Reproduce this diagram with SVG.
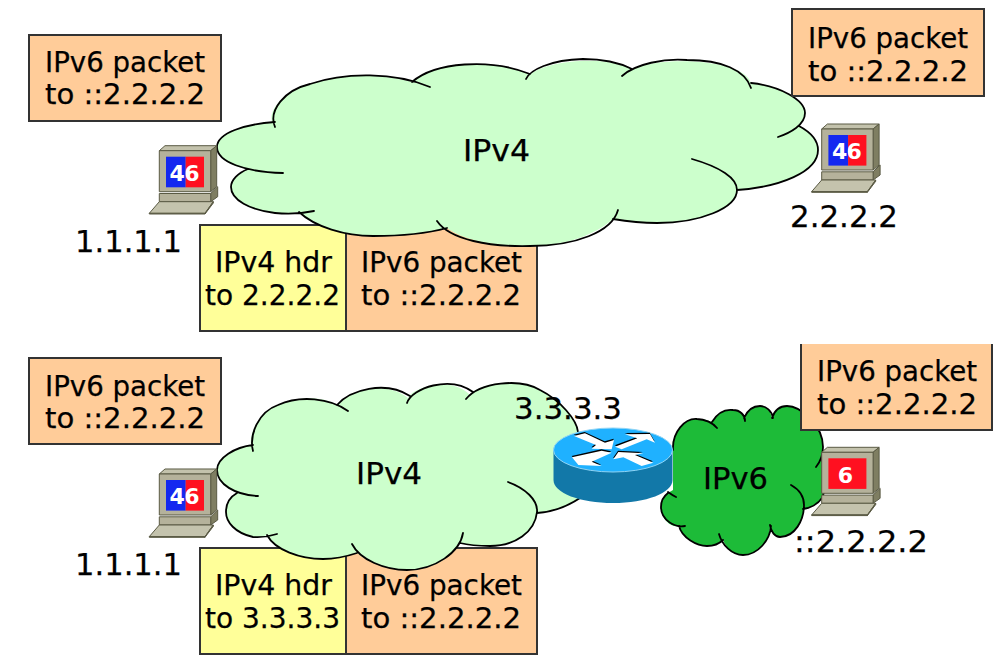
<svg xmlns="http://www.w3.org/2000/svg" xmlns:xlink="http://www.w3.org/1999/xlink" width="996" height="664" viewBox="0 0 996 664">
<style>
text{font-family:"DejaVu Sans","Liberation Sans",sans-serif;font-size:27.5px;fill:#000;stroke:#000;stroke-width:.25}
.lb{font-size:30px}
.box{stroke:#333;stroke-width:2}
.o{fill:#FFCC99}
.y{fill:#FFFF99}
.fl{stroke:none}
.ln{fill:none;stroke:#000;stroke-width:1.8;stroke-linecap:round}
text.pct{font-size:22px;font-weight:bold;fill:#fff;stroke:none;text-anchor:middle}
</style>
<defs>
<g id="pc" stroke="#5a5a44" stroke-width="1" stroke-linejoin="round">
<path d="M159.3,150.7L165,145.7H216.7L210.7,150.7Z" fill="#C3C2AC"/>
<path d="M210.7,150.7L216.7,145.7V186.7L210.7,191.7Z" fill="#7F7E62"/>
<rect x="159.3" y="150.7" width="51.4" height="41" fill="#B5B29B"/>
<path d="M210.7,193.5L217.7,186.7V196.7L210.7,201.7Z" fill="#7F7E62"/>
<rect x="159.3" y="193.5" width="51.4" height="8.2" fill="#B5B29B"/>
<path d="M149.3,213.3L159.3,201.7H213.3L205,213.3Z" fill="#C4C3AD"/>
<path d="M149.3,213.3H205V214H149.3Z" fill="#8a8a70"/>
<path d="M205,213.3L213.3,201.7L213.3,203L205,214Z" fill="#7F7E62"/>
</g>
<path id="arrows" d="M72,48L105,40L165,68L192,60L185,88L125,86L138,75ZM195,80L262,55L225,43L300,42L315,68L290,58L215,88ZM185,98L155,92L66,112L85,135L155,138L125,125ZM190,118L205,96L280,100L255,105L310,128L275,138L220,112Z"/>
</defs>

<g id="top-ipv4hdr"><rect class="box y" x="200" y="225" width="146" height="106"/>
<text x="215" y="272" textLength="117" lengthAdjust="spacingAndGlyphs">IPv4 hdr</text><text x="205" y="305" textLength="135" lengthAdjust="spacingAndGlyphs">to 2.2.2.2</text></g>
<g id="top-ipv6pkt"><rect class="box o" x="346" y="225" width="191" height="106"/>
<text x="361" y="272" textLength="161" lengthAdjust="spacingAndGlyphs">IPv6 packet</text><text x="361" y="305" textLength="160" lengthAdjust="spacingAndGlyphs">to ::2.2.2.2</text></g>
<g id="bot-ipv4hdr"><rect class="box y" x="200" y="548" width="146" height="106"/>
<text x="215" y="595" textLength="117" lengthAdjust="spacingAndGlyphs">IPv4 hdr</text><text x="205" y="628" textLength="135" lengthAdjust="spacingAndGlyphs">to 3.3.3.3</text></g>
<g id="bot-ipv6pkt"><rect class="box o" x="346" y="548" width="191" height="106"/>
<text x="361" y="595" textLength="161" lengthAdjust="spacingAndGlyphs">IPv6 packet</text><text x="361" y="628" textLength="160" lengthAdjust="spacingAndGlyphs">to ::2.2.2.2</text></g>

<g id="cloud-top">
<path class="fl" fill="#CCFFCC" d="M217,147C217,133 245,124 272,122C268,110 285,90 310,84C345,72 385,75 412,82C435,62 490,58 530,74C550,60 605,55 632,69C665,55 745,60 751,83C780,86 805,100 805,113C805,118 803,122 799,126C812,133 818,142 818,150C818,172 780,187 737,190C737,208 700,223 657,223C640,223 625,221 613,219C595,235 565,246 530,246C490,247 460,238 447,228C425,234 400,236 373,236C345,236 315,227 299,212C285,214 280,213 275,213C250,210 231,200 231,187C231,180 238,173 248,169C225,165 217,155 217,147Z"/>
<path class="ln" d="M275,127C268,110 285,90 310,84C345,72 395,72 430,87M412,82C435,62 490,58 530,74M526,79C530,70 550,60 583,59C605,59 620,63 632,69M622,76C635,64 665,58 687,60C722,60 745,70 751,88M751,83C780,86 805,100 805,113C805,125 790,133 778,137M799,126C812,133 818,142 818,150C818,172 780,187 737,190M692,159C720,167 737,178 737,190C737,208 700,223 657,223C640,223 625,221 613,219M618,210C612,232 575,246 530,246C490,247 450,240 437,221M447,228C425,234 400,236 373,236C345,236 315,227 299,212M314,211C300,214 285,214 275,213C250,210 231,200 231,187C231,180 238,173 248,169M283,173C245,172 217,162 217,147C217,133 245,124 275,122"/>
<text class="lb" x="463" y="161" textLength="67" lengthAdjust="spacingAndGlyphs">IPv4</text>
</g>

<g id="cloud-bottom">
<path class="fl" fill="#CCFFCC" d="M217,470C217,458 235,447 251,445C249,435 258,412 278,405C300,395 325,397 337,405C350,390 385,380 408,398C412,388 450,375 470,395C480,382 520,378 540,390C560,400 577,420 578,432L600,480L580,498C568,506 552,512 537,513C535,532 515,546 490,546C478,546 468,545 460,543C450,560 430,570 407,570C385,570 365,560 357,553C345,557 335,559 323,559C300,559 275,550 267,535C262,537 258,537 253,537C235,533 226,522 226,512C226,503 230,497 237,493C225,488 217,480 217,470Z"/>
<path class="ln" d="M253,451C249,435 258,412 278,405C300,395 330,398 348,411M337,405C350,390 385,380 410,396M407,403C412,388 450,375 473,392M466,399C480,382 520,378 540,390C560,400 577,420 578,432M537,513C552,512 568,506 580,498M508,482C525,488 538,500 537,512C535,532 515,546 490,546C478,546 468,545 460,543M463,533C460,552 435,570 407,570C385,570 360,560 352,544M357,553C345,557 335,559 323,559C300,559 275,550 267,535M277,534C265,538 258,537 253,537C235,533 226,522 226,512C226,503 230,497 237,493M258,496C235,495 217,484 217,470C217,458 235,447 253,445"/>
<text class="lb" x="356" y="484" textLength="66" lengthAdjust="spacingAndGlyphs">IPv4</text>
</g>

<g id="cloud-ipv6">
<path class="fl" fill="#1DBB38" d="M673,450C672,432 685,418 697,419C703,419 708,420 712,422C718,412 725,409 733,410C738,410 742,412 744,418C748,409 753,406 760,406C766,406 771,411 772,418C775,409 781,406 787,406C800,406 823,425 823,447L822,460C826,470 826,490 822,498C818,504 810,508 803,509C804,520 795,537 780,537C775,537 771,532 770,527C770,540 758,555 743,555C732,555 726,547 723,540C718,545 712,546 707,546C697,546 682,538 679,526C672,528 661,520 661,507C661,500 664,496 668,493L673,490Z"/>
<path class="ln" d="M673,450C672,432 685,418 697,419C705,419 713,423 717,428M712,422C718,412 725,409 733,410C740,410 745,415 745,421M744,418C748,409 753,406 760,406C766,406 772,411 773,418M772,418C775,409 781,406 787,406C800,406 823,425 823,447C823,455 820,462 816,467M822,460C826,470 826,490 822,498C818,504 810,508 803,509M791,485C800,490 804,497 804,505C804,520 795,537 780,537C775,537 771,532 770,525M771,526C770,540 758,555 743,555C732,555 722,545 719,534M723,540C718,545 712,546 707,546C697,546 682,538 679,526M685,526C675,528 661,520 661,507C661,500 664,496 668,493M668,492C672,495 674,496 676,497"/>
<text class="lb" x="703" y="489" textLength="65" lengthAdjust="spacingAndGlyphs">IPv6</text>
</g>

<g id="pkt-a"><rect class="box o" x="29" y="35" width="192" height="86"/>
<text x="45" y="72" textLength="160" lengthAdjust="spacingAndGlyphs">IPv6 packet</text><text x="45" y="104" textLength="160" lengthAdjust="spacingAndGlyphs">to ::2.2.2.2</text></g>
<g id="pkt-b"><rect class="box o" x="792" y="9" width="192" height="87"/>
<text x="808" y="48" textLength="160" lengthAdjust="spacingAndGlyphs">IPv6 packet</text><text x="808" y="81" textLength="160" lengthAdjust="spacingAndGlyphs">to ::2.2.2.2</text></g>
<g id="pkt-c"><rect class="box o" x="29" y="358" width="192" height="86"/>
<text x="45" y="396" textLength="160" lengthAdjust="spacingAndGlyphs">IPv6 packet</text><text x="45" y="428" textLength="160" lengthAdjust="spacingAndGlyphs">to ::2.2.2.2</text></g>
<g id="pkt-d"><rect class="o" x="801" y="344" width="191" height="86"/><path d="M801,344V430H992V344" fill="none" stroke="#333" stroke-width="2"/>
<text x="817" y="381" textLength="160" lengthAdjust="spacingAndGlyphs">IPv6 packet</text><text x="817" y="414" textLength="160" lengthAdjust="spacingAndGlyphs">to ::2.2.2.2</text></g>

<g id="host-a"><use href="#pc"/><rect x="166" y="156.7" width="19.7" height="30.6" fill="#1428F0"/><rect x="185.7" y="156.7" width="18.3" height="30.6" fill="#FF1020"/>
<text class="pct" x="184.5" y="181" textLength="30">46</text></g>
<g id="host-b"><use href="#pc" transform="translate(662.4,-21.7)"/><rect x="828.4" y="135" width="19.7" height="30.6" fill="#1428F0"/><rect x="848.1" y="135" width="18.3" height="30.6" fill="#FF1020"/>
<text class="pct" x="846.9" y="159.3" textLength="30">46</text></g>
<g id="host-c"><use href="#pc" transform="translate(0,323.3)"/><rect x="166" y="480" width="19.7" height="30.6" fill="#1428F0"/><rect x="185.7" y="480" width="18.3" height="30.6" fill="#FF1020"/>
<text class="pct" x="184.5" y="504.3" textLength="30">46</text></g>
<g id="host-d"><use href="#pc" transform="translate(662.4,301.6)"/><rect x="828.4" y="458.3" width="38" height="30.6" fill="#FF1020"/>
<text class="pct" x="845.5" y="482.6">6</text></g>

<g id="router">
<path d="M553.5,450V480C553.5,493 580,503 613,503C646,503 672.5,493 672.5,480V450Z" fill="#1278A8"/>
<ellipse cx="613" cy="450" rx="59.5" ry="22" fill="#1FB1FF" stroke="#8fd4f5" stroke-width="1"/>
<g transform="translate(550,420) scale(.3333)"><use href="#arrows" fill="#000" transform="translate(-1,-4)"/><use href="#arrows" fill="#fff"/></g>
</g>

<g id="labels">
<text class="lb" x="75" y="252" textLength="107" lengthAdjust="spacingAndGlyphs">1.1.1.1</text>
<text class="lb" x="790" y="227" textLength="108" lengthAdjust="spacingAndGlyphs">2.2.2.2</text>
<text class="lb" x="75" y="575" textLength="107" lengthAdjust="spacingAndGlyphs">1.1.1.1</text>
<text class="lb" x="794" y="552" textLength="134" lengthAdjust="spacingAndGlyphs">::2.2.2.2</text>
<text class="lb" x="514" y="419" textLength="108" lengthAdjust="spacingAndGlyphs">3.3.3.3</text>
</g>
</svg>
